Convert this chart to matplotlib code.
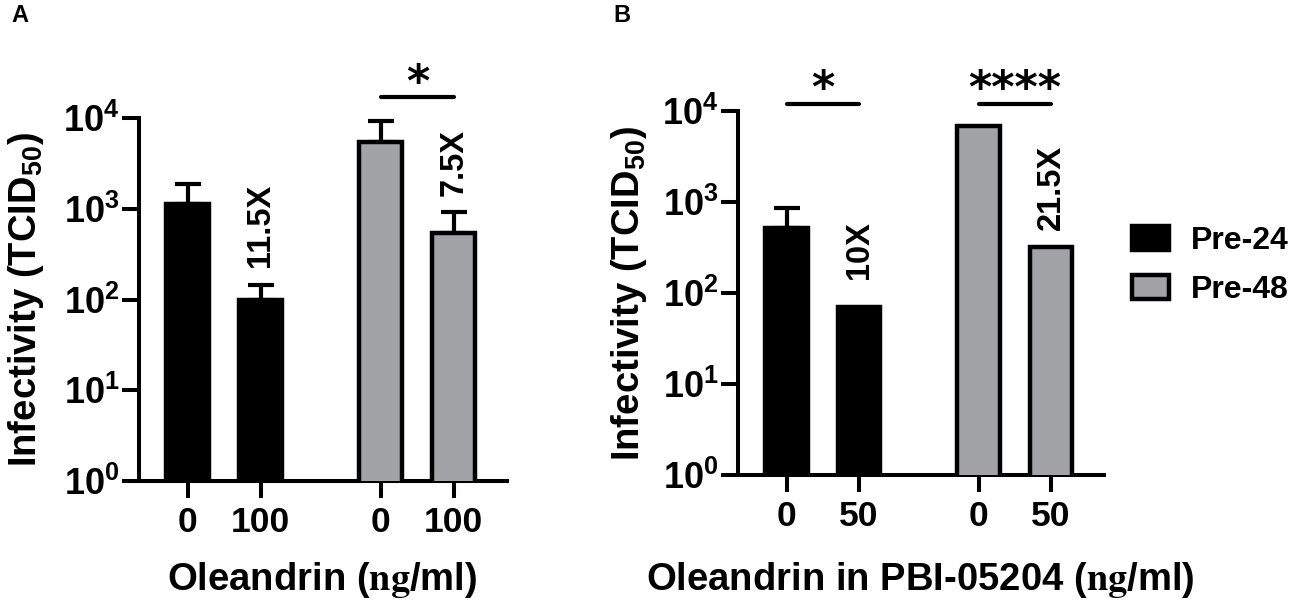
import numpy as np
import matplotlib
matplotlib.use('Agg')
from matplotlib import pyplot as plt
from matplotlib.patches import Patch
from matplotlib.ticker import LogLocator, NullLocator

# values (TCID50, upper SEM)
groups = ['Pre-24', 'Pre-48']
doses_a = ['0', '100']
pre24_a = [1130, 100]
pre24_err_a = [740, 45]
pre48_a = [5500, 540]
pre48_err_a = [3700, 375]
folds_a = ['11.5X', '7.5X']
sig_a = ['', '*']

doses_b = ['0', '50']
pre24_b = [520, 70]
pre24_err_b = [335, 0]
pre48_b = [6850, 320]
pre48_err_b = [0, 0]
folds_b = ['10X', '21.5X']
sig_b = ['*', '****']

gray = '#a2a3a7'
plt.rcParams['font.family'] = ['Liberation Sans', 'DejaVu Sans']
plt.rcParams['font.weight'] = 'bold'
plt.rcParams['axes.labelweight'] = 'bold'

xpos = [[0, 1], [2.65, 3.65]]
width = 0.59


def draw_panel(ax, vals, errs, doses, folds, sigs, sig_y, fold_off, xlabel, xlab_y, ylab_x):
    colors = ['black', gray]
    for g in range(2):
        ax.bar(xpos[g], vals[g], width=width, color=colors[g], edgecolor='black',
               linewidth=3.2, zorder=3)
        for i in range(2):
            if errs[g][i] > 0:
                ax.errorbar(xpos[g][i], vals[g][i], yerr=[[0], [errs[g][i]]], fmt='none',
                            ecolor='black', elinewidth=3, capsize=9.5, capthick=3, zorder=2)
        # fold change label above the treated bar
        top = vals[g][1] + errs[g][1]
        ax.annotate(folds[g], xy=(xpos[g][1], top), xytext=(0, fold_off[g]),
                    textcoords='offset points', rotation=90, rotation_mode='anchor',
                    ha='left', va='center', fontsize=23.5, annotation_clip=False)
        if sigs[g]:
            ax.plot(xpos[g], [sig_y, sig_y], color='black', lw=3, clip_on=False,
                    solid_capstyle='round')
            ax.annotate(sigs[g], xy=(np.mean(xpos[g]), sig_y), xytext=(0, 1),
                        textcoords='offset points', ha='center', va='baseline',
                        fontsize=32, family='DejaVu Sans', annotation_clip=False)
    ax.set_yscale('log')
    ax.set_ylim(1, 1e4)
    ax.set_xlim(-0.67, 4.38)
    ax.yaxis.set_major_locator(LogLocator(base=10, numticks=10))
    ax.yaxis.set_minor_locator(NullLocator())
    ax.set_xticks(xpos[0] + xpos[1])
    ax.set_xticklabels(doses + doses)
    ax.tick_params(width=2.9, length=12, labelsize=25.5, pad=6)
    ax.tick_params(axis='y', pad=2, labelsize=26)
    for s in ['top', 'right']:
        ax.spines[s].set_visible(False)
    for s in ['left', 'bottom']:
        ax.spines[s].set_linewidth(2.9)
    ax.set_ylabel(r'Infectivity (TCID$_{\mathdefault{50}}$)', fontsize=27.5, va='center')
    ax.yaxis.set_label_coords(ylab_x, 0.5)
    ax.set_xlabel(xlabel, fontsize=27.5, va='center', math_fontfamily='stix')
    ax.xaxis.set_label_coords(0.497, xlab_y)


fig = plt.figure(figsize=(12.99, 6.09), dpi=100)
axA = fig.add_axes([139 / 1299, 128 / 609, 368 / 1299, 363 / 609])
axB = fig.add_axes([738 / 1299, 134 / 609, 366 / 1299, 364 / 609])

draw_panel(axA, [pre24_a, pre48_a], [pre24_err_a, pre48_err_a], doses_a, folds_a, sig_a,
           10 ** 4.23, [13, 12], r'Oleandrin ($\mathbf{ng}$/ml)', -0.273, -0.307)
draw_panel(axB, [pre24_b, pre48_b], [pre24_err_b, pre48_err_b], doses_b, folds_b, sig_b,
           10 ** 4.08, [20, 12], r'Oleandrin in PBI-05204 ($\mathbf{ng}$/ml)', -0.288, -0.298)

fig.text(20 / 1299, 1 - 16 / 609, 'A', fontsize=17, ha='center', va='center')
fig.text(622 / 1299, 1 - 16 / 609, 'B', fontsize=17, ha='center', va='center')

handles = [Patch(facecolor='black', edgecolor='black', linewidth=3.2),
           Patch(facecolor=gray, edgecolor='black', linewidth=3.2)]
fig.legend(handles, groups, loc='upper left', bbox_to_anchor=(1132 / 1299, 1 - 226 / 609),
           frameon=False, fontsize=23, handlelength=1.15, handleheight=0.78,
           handletextpad=0.7, labelspacing=0.6, borderpad=0, borderaxespad=0)

fig.savefig('out.png', dpi=100)
